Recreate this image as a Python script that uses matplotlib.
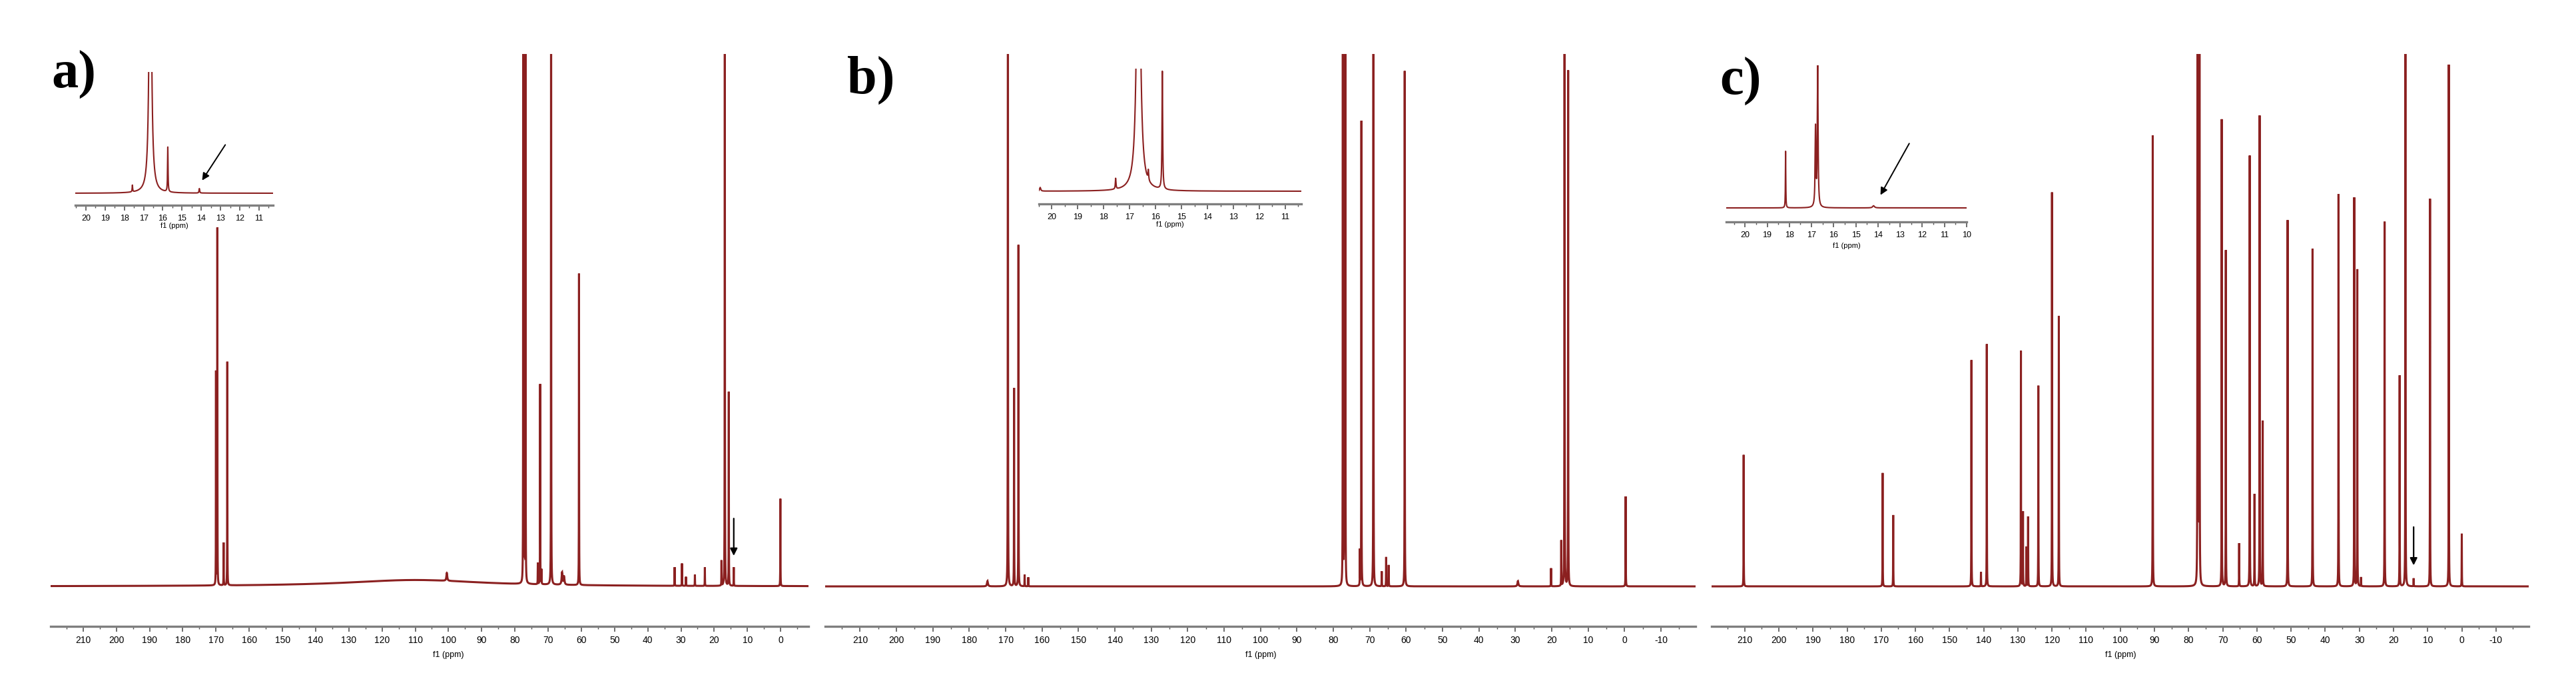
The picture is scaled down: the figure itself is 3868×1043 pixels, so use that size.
import numpy as np
import matplotlib
matplotlib.use("Agg")
import matplotlib.pyplot as plt
from matplotlib.ticker import MultipleLocator, FormatStrFormatter
import matplotlib.transforms as mtransforms

# ---------------- data (ppm, relative intensity, line width in ppm) ----------------
A_PPM = [170.0, 169.6, 167.7, 166.6, 110.0, 100.5, 77.5, 77.2, 76.8, 73.1, 72.4, 72.0,
         69.1, 65.8, 65.2, 60.7, 31.9, 29.7, 28.5, 25.8, 22.8, 17.8, 16.8, 15.6, 14.1, 0.06]
A_INT = [0.40, 0.67, 0.08, 0.42, 0.012, 0.015, 1.5, 1.5, 1.5, 0.04, 0.376, 0.027,
         1.5, 0.023, 0.015, 0.585, 0.035, 0.042, 0.017, 0.021, 0.035, 0.047, 1.5, 0.364, 0.035, 0.164]
A_WID = [0.06, 0.06, 0.06, 0.06, 50.0, 0.3, 0.05, 0.05, 0.05, 0.06, 0.06, 0.06,
         0.06, 0.3, 0.3, 0.06, 0.06, 0.06, 0.06, 0.06, 0.06, 0.06, 0.06, 0.06, 0.06, 0.06]

B_PPM = [175.0, 169.4, 167.7, 166.5, 164.8, 163.8, 77.4, 77.0, 76.7, 72.7, 72.3, 69.0,
         66.7, 65.5, 64.8, 60.4, 29.3, 20.2, 17.4, 16.5, 15.5, -0.3]
B_INT = [0.01, 1.5, 0.372, 0.641, 0.022, 0.017, 1.5, 1.5, 1.5, 0.066, 0.874, 1.5,
         0.028, 0.055, 0.04, 0.968, 0.01, 0.034, 0.085, 1.5, 0.968, 0.169]
B_WID = [0.3, 0.06, 0.06, 0.06, 0.06, 0.06, 0.05, 0.05, 0.05, 0.06, 0.06, 0.06,
         0.06, 0.06, 0.06, 0.06, 0.3, 0.06, 0.06, 0.06, 0.06, 0.06]

C_PPM = [210.3, 169.6, 166.5, 143.6, 140.8, 139.1, 129.1, 128.5, 127.5, 127.0, 124.0, 120.0,
         118.0, 90.5, 77.4, 77.1, 76.8, 70.3, 69.1, 65.2, 62.1, 60.7, 59.2, 58.3, 51.0, 43.7,
         36.1, 31.5, 30.6, 29.5, 22.6, 18.2, 16.5, 14.1, 9.3, 3.8, 0.0]
C_INT = [0.247, 0.213, 0.134, 0.425, 0.027, 0.455, 0.442, 0.14, 0.074, 0.131, 0.377, 0.740,
         0.508, 0.847, 1.5, 1.5, 1.5, 0.877, 0.631, 0.081, 0.809, 0.173, 0.884, 0.31, 0.688, 0.634,
         0.737, 0.730, 0.595, 0.017, 0.685, 0.396, 1.5, 0.015, 0.728, 0.98, 0.099]
C_WID = [0.06] * len(C_PPM)

# insets (zoom 20-10 ppm)
IA_PPM = [17.58, 16.65, 15.74, 14.10]
IA_INT = [0.055, 3.0, 0.368, 0.037]
IA_WID = [0.03, 0.12, 0.03, 0.04]

IB_PPM = [20.45, 17.54, 16.66, 16.28, 15.74]
IB_INT = [0.03, 0.087, 3.0, 0.08, 0.962]
IB_WID = [0.05, 0.03, 0.14, 0.03, 0.03]

IC_PPM = [18.17, 16.82, 16.72, 14.20]
IC_INT = [0.397, 0.55, 0.98, 0.015]
IC_WID = [0.02, 0.04, 0.04, 0.10]

MAIN_TICKS = list(range(210, -20, -10))
INSET_TICKS_AB = list(range(20, 10, -1))
INSET_TICKS_C = list(range(20, 9, -1))

# ---------------- styling ----------------
W, H = 3868, 1043
DPI = 100
LINE = "#8b2020"
SPINE = "#7f7f7f"
TICKFONT = ["Liberation Sans Narrow", "Liberation Sans", "DejaVu Sans"]


def spectrum(xmax, xmin, pos, ints, wids, n=60000):
    x = np.linspace(xmin, xmax, n)
    x = np.unique(np.concatenate([x, np.asarray(pos, float)]))
    y = np.zeros_like(x)
    for p, h, w in zip(pos, ints, wids):
        g = (w / 2.0) ** 2
        y += h * g / ((x - p) ** 2 + g)
    return x, y


def fig_rect(x0, x1, y_spine, y_top):
    return [x0 / W, 1 - y_spine / H, (x1 - x0) / W, (y_spine - y_top) / H]


def style_axis(ax, major, minor, labelsize=10, ticks=None):
    for s in ("top", "left", "right"):
        ax.spines[s].set_visible(False)
    ax.spines["bottom"].set_color(SPINE)
    ax.spines["bottom"].set_linewidth(2.4)
    ax.set_yticks([])
    ax.xaxis.set_major_locator(MultipleLocator(major))
    ax.xaxis.set_minor_locator(MultipleLocator(minor))
    if ticks is not None:
        ax.set_xticks(ticks)
    ax.xaxis.set_major_formatter(FormatStrFormatter("%d"))
    ax.tick_params(axis="x", which="major", length=6, width=1.2, color="#555555",
                   pad=4, labelsize=labelsize)
    ax.tick_params(axis="x", which="minor", length=3, width=1.0, color="#555555")
    for lab in ax.get_xticklabels():
        lab.set_family(TICKFONT)
    ax.set_facecolor("none")


fig = plt.figure(figsize=(W / DPI, H / DPI), dpi=DPI)

panels = [
    (76, 1214, 219.8, -8.4, A_PPM, A_INT, A_WID),
    (1239, 2546, 219.6, -19.5, B_PPM, B_INT, B_WID),
    (2570, 3797, 219.7, -19.6, C_PPM, C_INT, C_WID),
]
axes = []
for (x0, x1, xmax, xmin, pos, ints, wids) in panels:
    ax = fig.add_axes(fig_rect(x0, x1, 940, 81))
    x, y = spectrum(xmax, xmin, pos, ints, wids)
    ax.plot(x, y, color=LINE, lw=2.2, solid_joinstyle="miter")
    ax.set_xlim(xmax, xmin)
    ax.set_ylim(-60 / 799, 1.0)
    style_axis(ax, 10, 5, labelsize=10, ticks=[t for t in MAIN_TICKS if xmin < t < xmax])
    trans = mtransforms.blended_transform_factory(ax.transData, ax.transAxes)
    ax.text(100, -0.043, "f1 (ppm)", transform=trans, ha="center", va="top",
            fontsize=9, family=TICKFONT)
    axes.append(ax)

# arrows in main panels
axes[0].annotate("", xy=(14.1, 0.054), xytext=(14.1, 0.131),
                 arrowprops=dict(arrowstyle="-|>", color="black", lw=1.6, mutation_scale=16))
axes[2].annotate("", xy=(14.1, 0.036), xytext=(14.1, 0.115),
                 arrowprops=dict(arrowstyle="-|>", color="black", lw=1.6, mutation_scale=16))

# insets
insets = [
    (113, 410, 308, 108, 290, 20.55, 10.27, IA_PPM, IA_INT, IA_WID, INSET_TICKS_AB),
    (1560, 1954, 306, 103, 287, 20.5, 10.38, IB_PPM, IB_INT, IB_WID, INSET_TICKS_AB),
    (2592, 2953, 333, 98, 312, 20.85, 10.0, IC_PPM, IC_INT, IC_WID, INSET_TICKS_C),
]
iaxes = []
for (x0, x1, ys, yt, yb, xmax, xmin, pos, ints, wids, tks) in insets:
    ax = fig.add_axes(fig_rect(x0, x1, ys, yt))
    x, y = spectrum(xmax, xmin, pos, ints, wids, n=8000)
    ax.plot(x, y, color=LINE, lw=1.5)
    ax.set_xlim(xmax, xmin)
    ax.set_ylim(-(ys - yb) / (yb - yt), 1.0)
    style_axis(ax, 1, 0.5, labelsize=9, ticks=tks)
    ax.text(0.5, -0.13, "f1 (ppm)", transform=ax.transAxes, ha="center", va="top",
            fontsize=8, family=TICKFONT)
    iaxes.append(ax)

iaxes[0].annotate("", xy=(14.01, 0.093), xytext=(12.70, 0.412),
                  arrowprops=dict(arrowstyle="-|>", color="black", lw=1.4, mutation_scale=16))
iaxes[2].annotate("", xy=(13.93, 0.079), xytext=(12.55, 0.463),
                  arrowprops=dict(arrowstyle="-|>", color="black", lw=1.4, mutation_scale=16))

# panel labels
for txt, px, py in [("a)", 77, 132), ("b)", 1272, 140), ("c)", 2582, 142)]:
    fig.text(px / W, 1 - py / H, txt, ha="left", va="baseline", fontsize=58,
             family=["Liberation Serif", "DejaVu Serif"], weight="bold")

fig.savefig("out.png", dpi=DPI, facecolor="white")
